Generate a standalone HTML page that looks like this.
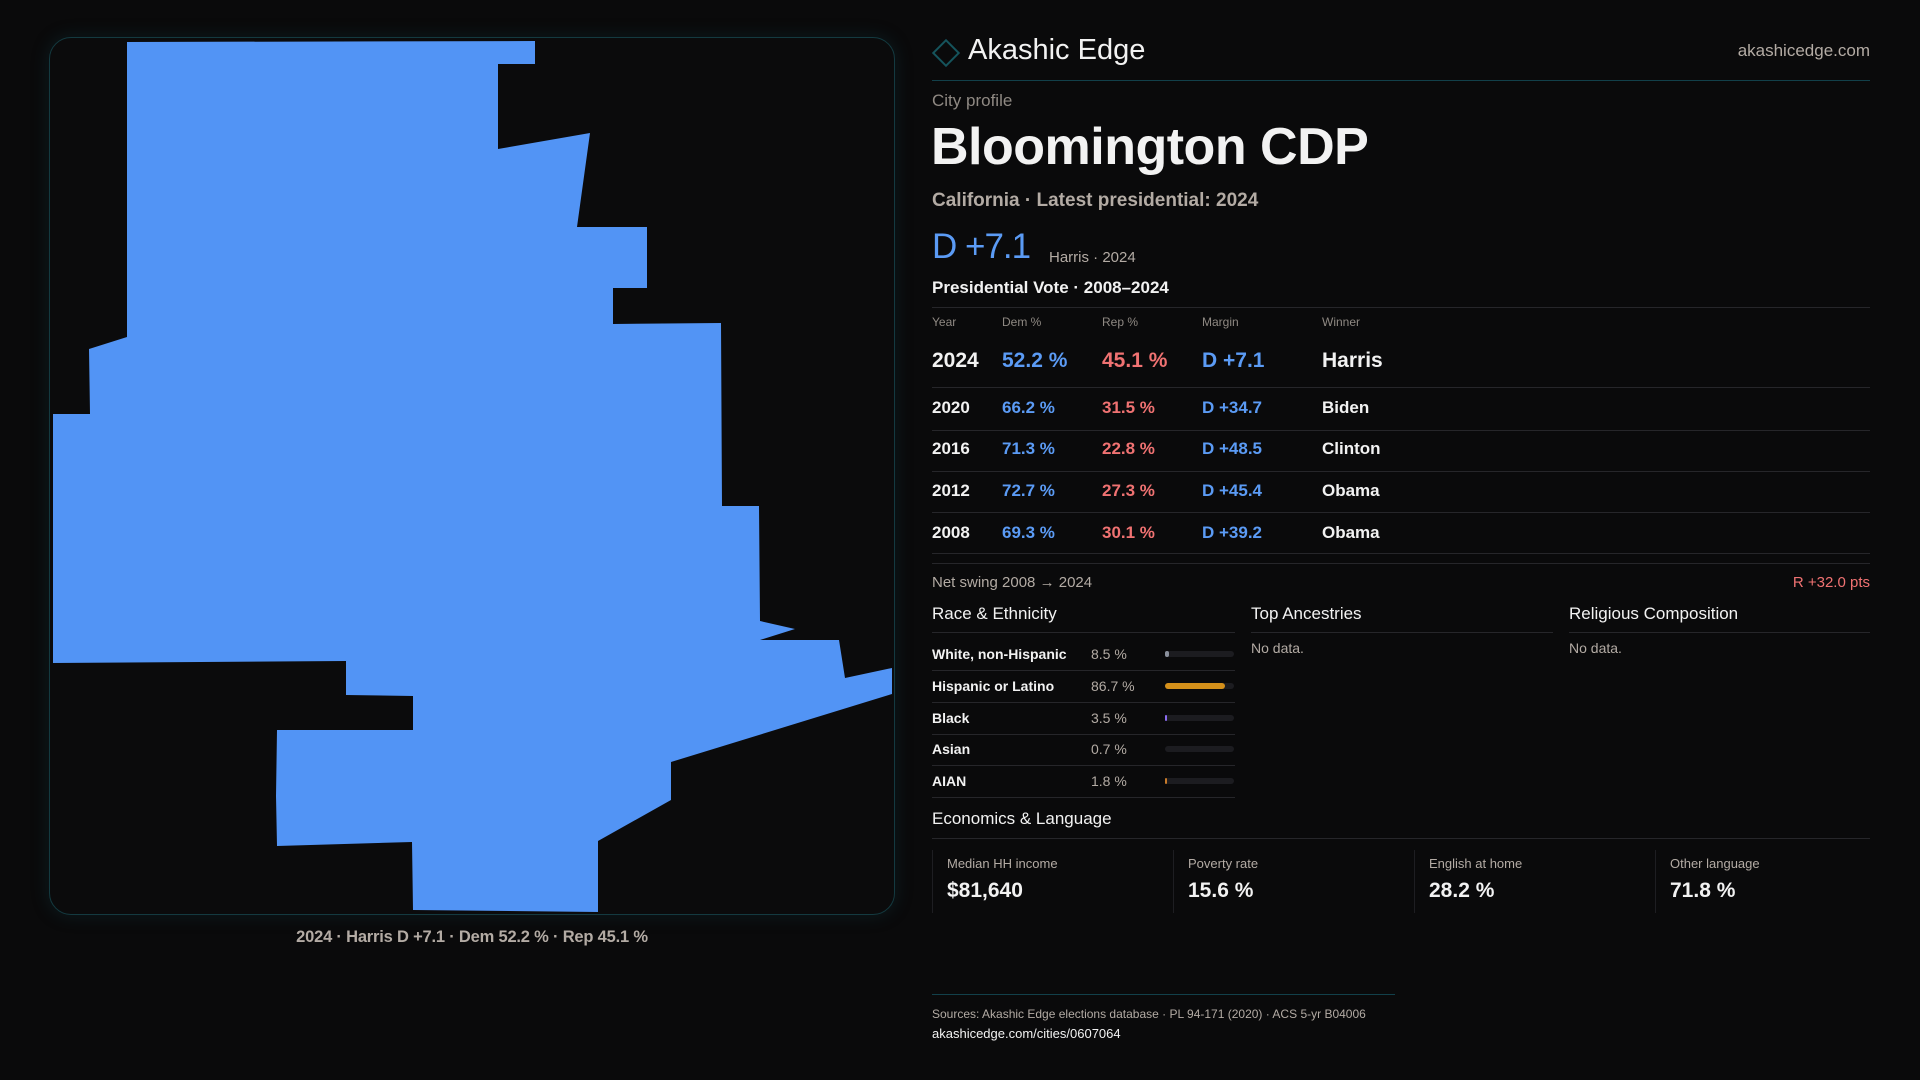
<!DOCTYPE html>
<html><head><meta charset="utf-8"><style>
*{margin:0;padding:0;box-sizing:border-box}
body{width:1920px;height:1080px;background:#0a0a0b;font-family:"Liberation Sans",sans-serif;color:#f2f2f2;position:relative;overflow:hidden}
.a{position:absolute;white-space:nowrap;line-height:1}
.g{color:#b3aba4}
.hl{position:absolute;height:1px;background:#26262a}
.blue{color:#5b9bf5}.red{color:#f07272}
</style></head><body>
<div class="a" style="left:49px;top:37px;width:846px;height:878px;border:1px solid #143a40;border-radius:22px;background:#0b0b0c;box-shadow:0 0 18px rgba(20,80,90,0.25)"></div>
<svg class="a" style="left:0;top:0" width="920" height="960">
<polygon id="poly" fill="#5294f5" points=""/>
</svg>
<div class="a g" style="left:0;width:944px;text-align:center;top:929px;font-size:16.5px;font-weight:bold;letter-spacing:-0.2px">2024 · Harris D +7.1 · Dem 52.2 % · Rep 45.1 %</div>

<div class="a" style="left:936px;top:43px;width:20px;height:20px;border:2px solid #15545c;transform:rotate(45deg)"></div>
<div class="a" style="left:968px;top:36px;font-size:29px">Akashic Edge</div>
<div class="a g" style="right:50px;top:42px;font-size:17px">akashicedge.com</div>
<div class="hl" style="left:932px;width:938px;top:80px;background:#12404a"></div>
<div class="a g" style="left:932px;top:92px;font-size:17px;color:#8f8983">City profile</div>
<div class="a" style="left:931px;top:121px;font-size:52px;font-weight:bold;letter-spacing:-0.5px">Bloomington CDP</div>
<div class="a g" style="left:932px;top:191px;font-size:19px;font-weight:bold">California · Latest presidential: 2024</div>
<div class="a blue" style="left:932px;top:229px;font-size:35px;letter-spacing:-1px">D +7.1</div>
<div class="a g" style="left:1049px;top:250px;font-size:15px">Harris · 2024</div>
<div class="a" style="left:932px;top:279px;font-size:17px;font-weight:bold">Presidential Vote · 2008–2024</div>
<div class="hl" style="left:932px;width:938px;top:307px"></div>
<div id="tbl"></div>
<div class="hl" style="left:932px;width:938px;top:563px"></div>
<div class="a g" style="left:932px;top:575px;font-size:15px">Net swing 2008 → 2024</div>
<div class="a red" style="right:50px;top:575px;font-size:15px">R +32.0 pts</div>

<div class="a" style="left:932px;top:605px;font-size:17px">Race &amp; Ethnicity</div>
<div class="hl" style="left:932px;width:303px;top:632px"></div>
<div id="race"></div>
<div class="a" style="left:1251px;top:605px;font-size:17px">Top Ancestries</div>
<div class="hl" style="left:1251px;width:302px;top:632px"></div>
<div class="a g" style="left:1251px;top:641px;font-size:14px">No data.</div>
<div class="a" style="left:1569px;top:605px;font-size:17px">Religious Composition</div>
<div class="hl" style="left:1569px;width:301px;top:632px"></div>
<div class="a g" style="left:1569px;top:641px;font-size:14px">No data.</div>

<div class="a" style="left:932px;top:810px;font-size:17px">Economics &amp; Language</div>
<div class="hl" style="left:932px;width:938px;top:838px"></div>
<div id="econ"></div>

<div class="hl" style="left:932px;width:463px;top:994px;background:#12404a"></div>
<div class="a g" style="left:932px;top:1008px;font-size:12px">Sources: Akashic Edge elections database · PL 94-171 (2020) · ACS 5-yr B04006</div>
<div class="a" style="left:932px;top:1027px;font-size:13px">akashicedge.com/cities/0607064</div>

<script>
const polyPts=[[127,42],[535,41],[535,64],[498,64],[498,149],[590,133],[577,227],[647,227],[647,288],[613,288],[613,324],[721,323],[722,506],[759,506],[760,621],[795,629],[760,640],[839,640],[845,678],[892,668],[892,694],[671,762],[671,800],[598,841],[598,912],[413,910],[412,842],[277,846],[276,796],[277,730],[413,730],[413,696],[346,695],[346,661],[53,663],[53,414],[90,414],[89,349],[127,337]];
document.getElementById('poly').setAttribute('points',polyPts.map(p=>p.join(',')).join(' '));

const years=['2024','2020','2016','2012','2008'];
const demPct=[52.2,66.2,71.3,72.7,69.3];
const repPct=[45.1,31.5,22.8,27.3,30.1];
const winners=['Harris','Biden','Clinton','Obama','Obama'];
const raceLabels=['White, non-Hispanic','Hispanic or Latino','Black','Asian','AIAN'];
const raceVals=[8.5,86.7,3.5,0.7,1.8];
const raceColors=['#8a909c','#d4901a','#8b6cf0','#6a9ef0','#c77a2a'];
const econLabels=['Median HH income','Poverty rate','English at home','Other language'];
const econVals=['$81,640','15.6 %','28.2 %','71.8 %'];

function mk(parent,cls,style,text){const d=document.createElement('div');d.className=cls;d.style.cssText=style;if(text!==undefined)d.textContent=text;parent.appendChild(d);return d;}
const tbl=document.getElementById('tbl');
const cols=[932,1002,1102,1202,1322];
['Year','Dem %','Rep %','Margin','Winner'].forEach((h,i)=>{
  const e=mk(tbl,'a g',`left:${cols[i]}px;top:316px;font-size:12px;color:#8f8983`,h);
  
  
});
const rowY=[361,408,449,491,533];
years.forEach((y,i)=>{
  const fs=i===0?21:17, top=rowY[i]-fs/2-1;
  const m=demPct[i]-repPct[i];
  const vals=[y,demPct[i].toFixed(1)+' %',repPct[i].toFixed(1)+' %',(m>=0?'D +':'R +')+Math.abs(m).toFixed(1),winners[i]];
  const cl=['a','a blue','a red','a blue','a'];
  vals.forEach((v,j)=>{
    const e=mk(tbl,cl[j],`left:${cols[j]}px;top:${top}px;font-size:${fs}px;font-weight:bold`,v);
    
    
  });
  const ly=[387,430,471,512,553][i];
  const l=mk(tbl,'hl',`left:932px;width:938px;top:${ly}px`);
  
  
});
const race=document.getElementById('race');
const raceY=[654,686,718,749,781];
const barX=1165,barW=69;
raceLabels.forEach((lab,i)=>{
  const y=raceY[i];
  const a=mk(race,'a',`left:932px;top:${y-7}px;font-size:14px;font-weight:bold`,lab);
  
  
  const b=mk(race,'a g',`left:1091px;top:${y-7}px;font-size:14px`,raceVals[i].toFixed(1)+' %');
  
  
  const t=mk(race,'a',`left:${barX}px;top:${y-3}px;width:${barW}px;height:6px;border-radius:3px;background:#1c1c20`);
  
  
  const w=raceVals[i]<1?0:Math.max(1.5,barW*raceVals[i]/100*(i===0?0.7:1));
  const f=mk(race,'a',`left:${barX}px;top:${y-3}px;width:${w}px;height:6px;border-radius:3px;background:${raceColors[i]}`);
  
  
  const l=mk(race,'hl',`left:932px;width:303px;top:${y+16}px`);
  
  
});
const econ=document.getElementById('econ');
econLabels.forEach((lab,i)=>{
  const x=932+i*241;
  const s=mk(econ,'a',`left:${x}px;top:850px;width:1px;height:63px;background:#1e1e22`);
  
  
  const a=mk(econ,'a g',`left:${x+15}px;top:857px;font-size:13px`,lab);
  
  
  const b=mk(econ,'a',`left:${x+15}px;top:880px;font-size:21px;font-weight:bold`,econVals[i]);
  
  
});
</script>
</body></html>
